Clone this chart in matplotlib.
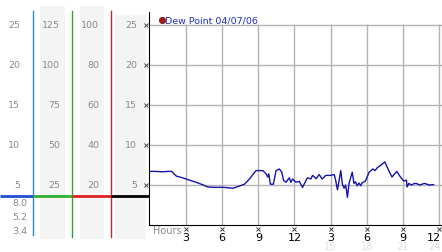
import matplotlib
matplotlib.use("Agg")
import matplotlib.pyplot as plt
import matplotlib.transforms as mtransforms

# dew point trace, hours since midnight vs value
dew_hours = [0.0, 0.5, 1.0, 1.5, 1.8, 2.0, 2.2, 2.6, 3.0, 3.5, 4.0, 4.5, 4.8, 5.5, 6.0,
             6.5, 6.9, 7.3, 7.85, 8.26, 8.8, 9.37, 9.64, 9.78, 9.86, 10.0, 10.25, 10.47,
             10.75, 10.94, 11.1, 11.3, 11.57, 11.7, 11.85, 12.12, 12.4, 12.67, 12.8,
             13.08, 13.36, 13.5, 13.8, 14.05, 14.3, 14.6, 15.0, 15.3, 15.4, 15.57, 15.7,
             15.84, 15.98, 16.12, 16.25, 16.4, 16.53, 16.8, 16.94, 17.07, 17.2, 17.35,
             17.5, 17.6, 17.9, 18.2, 18.5, 18.7, 18.9, 19.2, 19.5, 19.83, 20.1, 20.5,
             20.8, 21.07, 21.3, 21.35, 21.5, 21.7, 21.9, 22.1, 22.4, 22.8, 23.2, 23.55]
dew_vals = [6.7, 6.7, 6.65, 6.7, 6.7, 6.4, 6.1, 5.95, 5.75, 5.5, 5.25, 4.95, 4.75, 4.7, 4.72,
            4.65, 4.6, 4.8, 5.1, 5.75, 6.8, 6.8, 6.4, 6.0, 6.4, 5.1, 5.1, 6.8,
            7.0, 6.6, 5.55, 5.35, 5.9, 5.35, 5.75, 5.35, 5.45, 4.7, 5.1,
            5.9, 5.75, 6.2, 5.8, 6.3, 5.75, 6.2, 6.2, 6.3, 5.75, 4.4, 5.5,
            6.8, 5.1, 4.6, 5.0, 3.45, 5.2, 6.6, 5.2, 5.4, 4.9, 5.25,
            4.9, 5.25, 5.5, 6.6, 7.0, 6.8, 7.2, 7.5, 7.9, 6.8, 6.0, 6.7,
            6.0, 5.5, 5.6, 4.75, 5.2, 5.0, 5.15, 5.2, 5.0, 5.2, 5.0, 5.05]

grid_vals = [5, 10, 15, 20, 25]
col1_labels = ['5', '10', '15', '20', '25']
col2_labels = ['25', '50', '75', '100', '125']
col3_labels = ['20', '40', '60', '80', '100']
col4_labels = ['5', '10', '15', '20', '25']
sub_labels = ['8.0', '5.2', '3.4']
hour_ticks = [3, 6, 9, 12, 15, 18, 21, 24]
hour_labels = ['3', '6', '9', '12', '3', '6', '9', '12']
pm_ticks = [15, 18, 21, 24]
pm_labels = ['15', '18', '21', '24']

W, H = 442, 253
PX_H = 12.04  # pixels per hour
fig = plt.figure(figsize=(W / 100, H / 100), dpi=100)

# background axes in pixel units for the side scales
bg = fig.add_axes([0, 0, 1, 1])
bg.set_xlim(0, W)
bg.set_ylim(H, 0)
bg.axis('off')

# main plot area: x 149..442 px, y 13..226 px
ax = fig.add_axes([149 / W, (H - 226) / H, (W - 149) / W, (226 - 13) / H])
ax.set_xlim(-1 / PX_H, (W - 150) / PX_H)
ax.set_ylim(0, 213 / 8)
ax.patch.set_alpha(0)

# light bands behind scale columns
for x0, x1, y0 in [(40, 65, 7), (80, 104, 7), (115, 146, 16)]:
    bg.fill_between([x0, x1], y0, 240, color='#f4f4f4', lw=0)

# vertical scale lines
bg.plot([33, 33], [12, 236], color='#2a8ccc', lw=1)
bg.plot([72, 72], [12, 238], color='#30a030', lw=1)
bg.plot([111, 111], [12, 238], color='#c02828', lw=1)

# coloured base line
for x0, x1, c in [(0, 33, '#1f4fd0'), (33, 72, '#30b030'), (72, 111, '#e02020'), (111, 149, 'black')]:
    bg.plot([x0, x1], [197, 197], color=c, lw=2, solid_capstyle='butt')

# scale labels, y in data units of main axes
trans = mtransforms.blended_transform_factory(bg.transData, ax.transData)
lab_kw = dict(fontsize=6.8, color='#8a8a8a', va='center', ha='right', transform=trans)
for v, a, b, c, d in zip(grid_vals, col1_labels, col2_labels, col3_labels, col4_labels):
    bg.text(20, v, a, **lab_kw)
    bg.text(60, v, b, **lab_kw)
    bg.text(99, v, c, **lab_kw)
    bg.text(137, v, d, **lab_kw)
for i, s in enumerate(sub_labels):
    bg.text(27, 204 + i * 14, s, fontsize=6.8, color='#8a8a8a', va='center', ha='right')

# grid
ax.hlines(grid_vals, ax.get_xlim()[0], ax.get_xlim()[1], color='#b4b4b4', lw=1)
ax.vlines(hour_ticks, 0, 25.1, color='#b4b4b4', lw=1)

# data
ax.plot(dew_hours, dew_vals, color='#1414a8', lw=1)

# axes frame
for s in ['top', 'right']:
    ax.spines[s].set_visible(False)
ax.spines['left'].set_color('black')
ax.spines['bottom'].set_color('black')
ax.set_xticks([])
ax.set_yticks([])

# little tick marks
ax.plot([-0.33] * len(grid_vals), grid_vals, 'x', color='#444444', ms=2.5, mew=0.7, clip_on=False)
ax.plot(hour_ticks, [-0.45] * len(hour_ticks), 'x', color='#444444', ms=2.5, mew=0.7, clip_on=False)

# hour labels
xtr = mtransforms.blended_transform_factory(ax.transData, bg.transData)
for h, s in zip(hour_ticks, hour_labels):
    ha = 'right' if h == hour_ticks[-1] else 'center'
    off = 0.15 if ha == 'right' else 0
    bg.text(h + off, 238.5, s, transform=xtr, fontsize=8, color='black', ha=ha, va='center')
for h, s in zip(pm_ticks, pm_labels):
    ha = 'right' if h == pm_ticks[-1] else 'center'
    off = 0.15 if ha == 'right' else 0
    bg.text(h + off, 247, s, transform=xtr, fontsize=7, color='#e0e0e0', ha=ha, va='center')
bg.text(153, 231.5, 'Hours', fontsize=7, color='#8a8a8a', ha='left', va='center')

# legend
bg.plot([161.5], [21], 'o', color='#b01818', ms=4.5, mec='#501010', mew=0.5)
bg.text(165, 21, 'Dew Point 04/07/06', fontsize=6.8, color='#2030c0', ha='left', va='center')

fig.savefig('out.png', dpi=100)
